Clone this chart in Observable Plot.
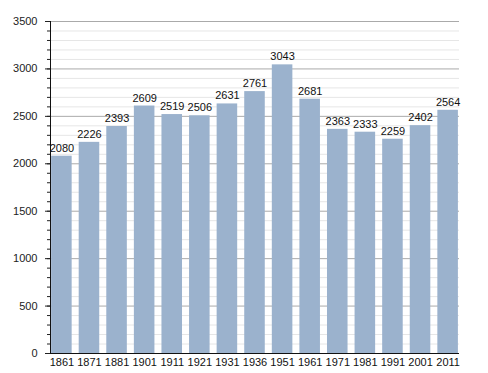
<!DOCTYPE html>
<html>
<head>
<meta charset="utf-8">
<script src="https://cdn.jsdelivr.net/npm/d3@7"></script>
<script src="https://cdn.jsdelivr.net/npm/@observablehq/plot@0.6"></script>
<style>
  html, body { margin: 0; padding: 0; background: #fff; }
  svg { font-family: "Liberation Sans", Arial, sans-serif; }
</style>
</head>
<body>
<div id="chart"></div>
<script>
const years = ["1861","1871","1881","1901","1911","1921","1931","1936","1951","1961","1971","1981","1991","2001","2011"];
const population = [2080,2226,2393,2609,2519,2506,2631,2761,3043,2681,2363,2333,2259,2402,2564];
const majorTicks = [0,500,1000,1500,2000,2500,3000,3500];
const minorTicks = d3.range(0, 3501, 100);

const data = years.map((y, i) => ({year: y, pop: population[i]}));

const plot = Plot.plot({
  width: 488,
  height: 373,
  marginLeft: 50,
  marginRight: 29,
  marginTop: 21,
  marginBottom: 20,
  style: {fontFamily: "Liberation Sans, Arial, sans-serif", fontSize: "11px", color: "#222", background: "#fff"},
  x: {domain: years, paddingInner: 0.255, paddingOuter: 0.04, round: false, label: null},
  y: {domain: [0, 3500], label: null},
  marks: [
    Plot.ruleY(minorTicks.filter(d => d % 500 !== 0), {stroke: "#e6e6e6", strokeWidth: 1}),
    Plot.ruleY(majorTicks.filter(d => d > 0), {stroke: "#aaaaaa", strokeWidth: 1}),
    Plot.barY(data, {x: "year", y: "pop", fill: "#9bb2cd"}),
    Plot.text(data, {x: "year", y: "pop", text: d => String(d.pop), dy: -8, fontSize: 11, fill: "#111"}),
    Plot.axisY({ticks: minorTicks, tickSize: 3, tickFormat: () => "", stroke: "#222"}),
    Plot.axisY({ticks: majorTicks, tickSize: 5, tickPadding: 8, tickFormat: d => String(d), fill: "#222", stroke: "#222"}),
    Plot.axisX({tickSize: 0, tickPadding: 5, fill: "#111"}),
    Plot.frame({anchor: "left", stroke: "#111"}),
    Plot.ruleY([0], {stroke: "#111"})
  ]
});
document.getElementById("chart").appendChild(plot);
</script>
</body>
</html>
